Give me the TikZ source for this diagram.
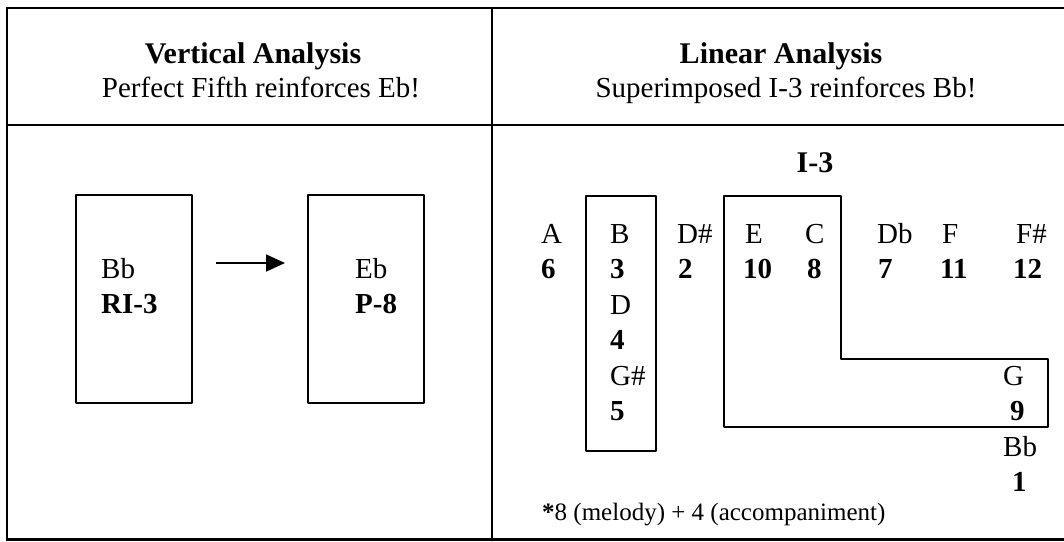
\documentclass[tikz,border=0pt]{standalone}
\usepackage{fontspec}
\setmainfont{Liberation Serif}
\usetikzlibrary{arrows.meta}
\tikzset{
  rule/.style={line width=2.2pt, line cap=rect},
  boxline/.style={line width=2pt, line join=round},
  txt/.style={anchor=base west, inner sep=0pt, font=\fontsize{29}{34}\selectfont},
  num/.style={txt, font=\fontsize{29}{34}\selectfont\bfseries},
  head/.style={anchor=base, inner sep=0pt, font=\fontsize{30}{35}\selectfont\bfseries},
  sub/.style={anchor=base, inner sep=0pt, font=\fontsize{29}{34}\selectfont},
}
\begin{document}
\begin{tikzpicture}[x=1pt,y=-1pt]
\useasboundingbox (0,0) rectangle (1064,541);
% table rules
\coordinate (tl) at (7,8);
\coordinate (tr) at (1064,8);
\coordinate (ml) at (7,125);
\coordinate (mr) at (1064,125);
\coordinate (bl) at (7,539.5);
\coordinate (br) at (1064,539.5);
\coordinate (dt) at (492,8);
\coordinate (db) at (492,539.5);
\draw[rule] (tl) -- (tr);
\draw[rule] (ml) -- (mr);
\draw[rule] (bl) -- (br);
\draw[rule] (tl) -- (bl);
\draw[rule] (dt) -- (db);
% headers
\node[head] (h1) at (253,63) {Vertical Analysis};
\node[sub] (s1) at (261,97) {Perfect Fifth reinforces Eb!};
\node[head] (h2) at (781,63) {Linear Analysis};
\node[sub] (s2) at (786,97) {Superimposed I-3 reinforces Bb!};
% left panel
\draw[boxline] (76,195) rectangle (192,403);
\draw[boxline] (308,195) rectangle (424,403);
\node[txt] (bb) at (101,278) {Bb};
\node[num] (ri) at (101,313) {RI-3};
\node[txt] (eb) at (355,278) {Eb};
\node[num] (p8) at (355,313) {P-8};
\coordinate (a1) at (216,263);
\coordinate (a2) at (285,263);
\draw[line width=1.8pt, -{Triangle[length=19pt,width=17pt]}] (a1) -- (a2);
% right panel boxes
\draw[boxline] (586,196) rectangle (656,451);
\draw[boxline] (724,196) -- (841,196) -- (841,359) -- (1048,359) -- (1048,427) -- (724,427) -- cycle;
\node[head] (i3) at (815,172) {I-3};
% row 1 letters
\node[txt] (nA) at (541,243) {A};
\node[txt] (nB) at (610,243) {B};
\node[txt] (nDs) at (677,243) {D\#};
\node[txt] (nE) at (745,243) {E};
\node[txt] (nC) at (805,243) {C};
\node[txt] (nDb) at (877,243) {Db};
\node[txt] (nF) at (942,243) {F};
\node[txt] (nFs) at (1016,243) {F\#};
% row 2 numbers
\node[num] (n6) at (541,278.5) {6};
\node[num] (n3) at (610,278.5) {3};
\node[num] (n2) at (678,278.5) {2};
\node[num] (n10) at (743,278.5) {10};
\node[num] (n8) at (807,278.5) {8};
\node[num] (n7) at (878,278.5) {7};
\node[num] (n11) at (940,278.5) {11};
\node[num] (n12) at (1013,278.5) {12};
% B column
\node[txt] (nD) at (610,314) {D};
\node[num] (n4) at (610,349.5) {4};
\node[txt] (nGs) at (610,385) {G\#};
\node[num] (n5) at (610,420.5) {5};
% G column
\node[txt] (nG) at (1003,385) {G};
\node[num] (n9) at (1010,420.5) {9};
\node[txt] (nBb) at (1003,456) {Bb};
\node[num] (n1) at (1012,491.5) {1};
% footnote
\node[anchor=base west, inner sep=0pt, font=\fontsize{25}{30}\selectfont] (fn) at (542,520) {\textbf{*}8 (melody) + 4 (accompaniment)};
\end{tikzpicture}
\end{document}
